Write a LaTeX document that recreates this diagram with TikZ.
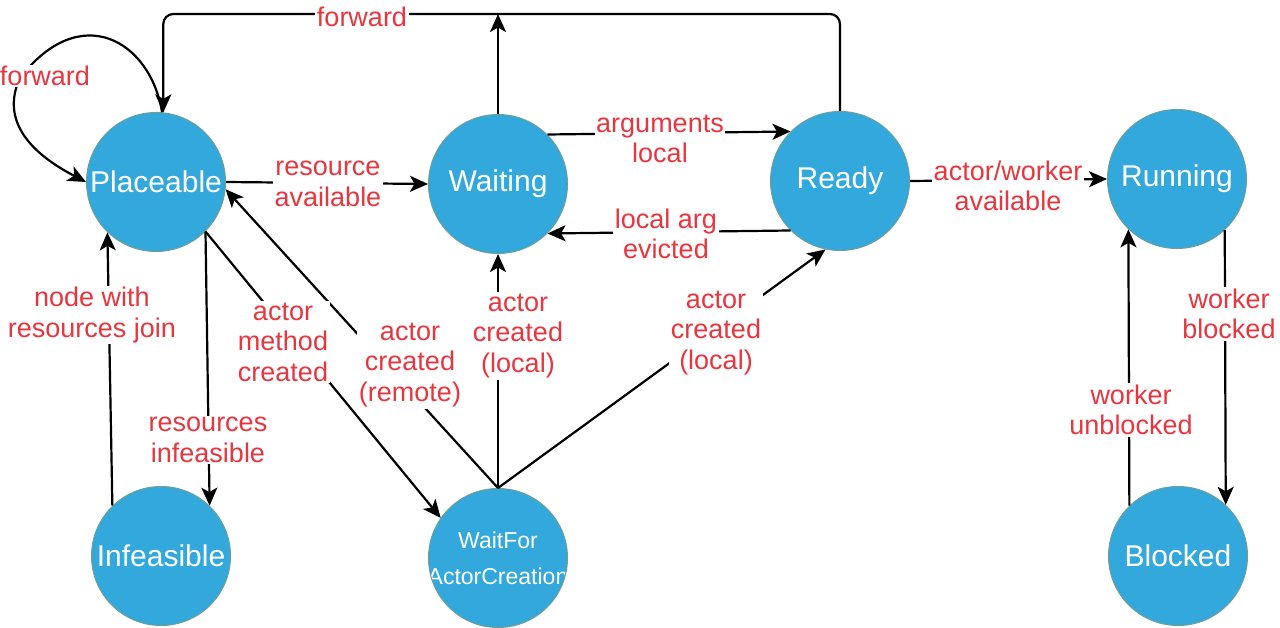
\documentclass[tikz,border=0pt]{standalone}
\usepackage{fontspec}
\setmainfont{Liberation Sans}
\usetikzlibrary{arrows.meta}
\definecolor{stfill}{HTML}{32A8DC}
\definecolor{stline}{HTML}{6E9F95}
\definecolor{lblred}{HTML}{E8363F}
\begin{document}
\begin{tikzpicture}[x=1pt,y=-1pt,
  state/.style={circle, fill=stfill, draw=stline, line width=1pt, minimum size=139pt, inner sep=0pt, text=white, font=\fontsize{30}{34}\selectfont},
  lbl/.style={fill=white, text=lblred, font=\fontsize{27}{30.5}\selectfont, align=center, inner sep=1.5pt},
  conn/.style={line width=2.2pt, -{Stealth[length=18pt,width=16pt,inset=4.5pt]}}
]
\useasboundingbox (0,0) rectangle (1280,628);

% states
\node[state] (pl) at (156,182) {Placeable};
\node[state] (wa) at (498,184) {Waiting};
\node[state] (re) at (840,181) {Ready};
\node[state] (ru) at (1177,179) {Running};
\node[state] (in) at (161,556) {Infeasible};
\node[state] (bl) at (1178,556) {Blocked};
\node[state, path picture={\node[text=white, font=\fontsize{23}{36}\selectfont, align=center, inner sep=0pt] at (path picture bounding box.center) {WaitFor\\ActorCreation};}] (wf) at (498,558) {};

\coordinate (wtop) at (498,14);

% connectors
\draw[conn, rounded corners=10pt] (re.north) -- ++(0,-97) -| (pl.84);
\draw[conn] (wa.north) -- (wtop);
\draw[conn] (pl.85) .. controls (150,40) and (80,0) .. (20,78) .. controls (5,110) and (15,145) .. (pl.west);
\draw[conn] (pl.east) -- (wa.west);
\draw[conn] (wa.45) -- (re.135);
\draw[conn] (re.-135) -- (wa.-45);
\draw[conn] (re.east) -- (ru.west);
\draw[conn] (ru.-47) -- (bl.47);
\draw[conn] (bl.134) -- (ru.-134);
\draw[conn] (in.134) -- (pl.-134);
\draw[conn] (pl.-45) -- (in.46);
\draw[conn] (pl.-45) -- (wf.145);
\draw[conn] (wf.north) -- (pl.-6);
\draw[conn] (wf.north) -- (wa.south);
\draw[conn] (wf.north) -- (re.-102);

% labels
\node[lbl] (l1) at (362,17) {forward};
\node[lbl] (l2) at (45,76) {forward};
\node[lbl] (l3) at (328,184) {resource\\available};
\node[lbl] (l4) at (660,139) {arguments\\local};
\node[lbl] (l5) at (666,234) {local arg\\evicted};
\node[lbl] (l6) at (1008,186) {actor/worker\\available};
\node[lbl] (l7) at (1229,314) {worker\\blocked};
\node[lbl] (l8) at (1131,410) {worker\\unblocked};
\node[lbl] (l9) at (92,315) {node with\\resources join};
\node[lbl] (l10) at (208,440) {resources\\infeasible};
\node[lbl] (l11) at (283,342) {actor\\method\\created};
\node[lbl] (l12) at (410,365) {actor\\created\\(remote)};
\node[lbl] (l13) at (518,336) {actor\\created\\(local)};
\node[lbl] (l14) at (716,333) {actor\\created\\(local)};
\end{tikzpicture}
\end{document}
